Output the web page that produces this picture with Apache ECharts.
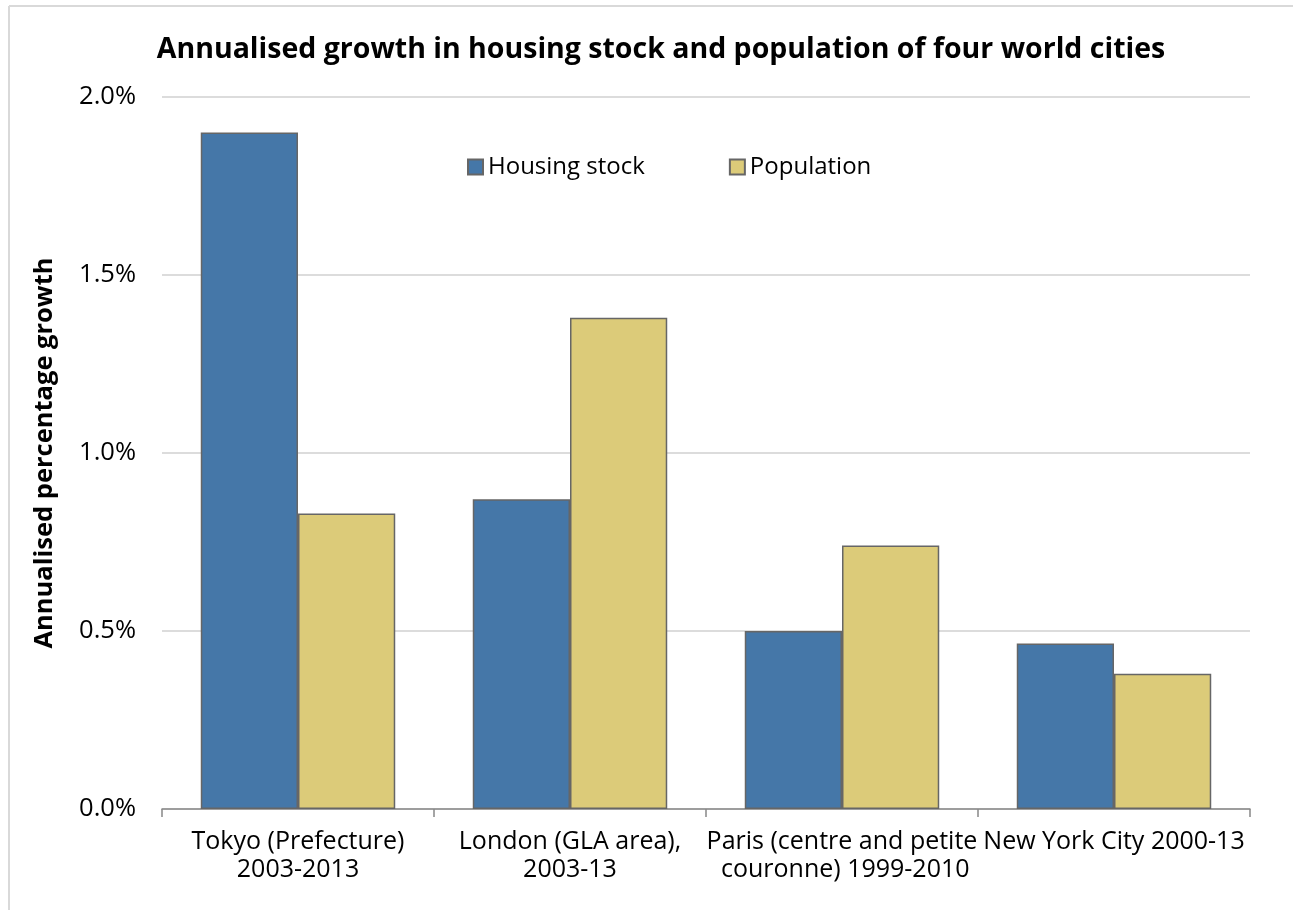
<!DOCTYPE html>
<html>
<head>
<meta charset="utf-8">
<script src="https://cdn.jsdelivr.net/npm/echarts@6/dist/echarts.min.js"></script>
<style>
html,body{margin:0;padding:0;background:#fff;}
#chart{width:1293px;height:910px;}
</style>
</head>
<body>
<div id="chart"></div>
<script>
const categories = [
  "Tokyo (Prefecture)\n2003-2013",
  "London (GLA area),\n2003-13",
  "Paris (centre and petite\n couronne) 1999-2010",
  "New York City 2000-13"
];
const housingStock = [1.90, 0.87, 0.50, 0.465];
const population = [0.83, 1.38, 0.74, 0.38];
const yTicks = [0, 0.5, 1.0, 1.5, 2.0];

const FONT = "'Open Sans', 'Noto Sans', sans-serif";
const chart = echarts.init(document.getElementById('chart'), null, {renderer: 'canvas'});
chart.setOption({
  animation: false,
  backgroundColor: '#fff',
  graphic: [
    {type: 'line', shape: {x1: 9, y1: 6, x2: 1293, y2: 6}, style: {stroke: '#d9d9d9', lineWidth: 2}},
    {type: 'line', shape: {x1: 9, y1: 6, x2: 9, y2: 910}, style: {stroke: '#d9d9d9', lineWidth: 2}}
  ],
  title: {
    text: 'Annualised growth in housing stock and population of four world cities',
    left: 656, top: 30, textAlign: 'center',
    textStyle: {fontFamily: FONT, fontWeight: 'bold', fontSize: 28.5, color: '#000'}
  },
  legend: {
    top: 150, left: 462,
    itemWidth: 15, itemHeight: 15, itemGap: 84,
    textStyle: {fontFamily: FONT, fontSize: 24, color: '#000', padding: [0, 0, 0, 0]},
    data: [
      {name: 'Housing stock', icon: 'rect'},
      {name: 'Population', icon: 'rect'}
    ]
  },
  grid: {left: 162, right: 43, top: 97, bottom: 101, containLabel: false},
  xAxis: {
    type: 'category',
    data: categories,
    axisLine: {lineStyle: {color: '#888', width: 1.5}},
    axisTick: {show: true, length: 8, interval: 0, lineStyle: {color: '#888', width: 1.5}},
    axisLabel: {interval: 0, margin: 19, fontFamily: FONT, fontSize: 25, color: '#000', lineHeight: 28, overflow: 'none'}
  },
  yAxis: {
    type: 'value',
    min: 0, max: 2.0, interval: 0.5,
    name: 'Annualised percentage growth',
    nameLocation: 'middle', nameGap: 104,
    nameTextStyle: {fontFamily: FONT, fontWeight: 'bold', fontSize: 25.5, color: '#000'},
    axisLine: {show: false},
    axisTick: {show: false},
    splitLine: {lineStyle: {color: '#d0d0d0', width: 1.5}},
    axisLabel: {
      fontFamily: FONT, fontSize: 25.5, color: '#000', margin: 26,
      formatter: v => v.toFixed(1) + '%'
    }
  },
  series: [
    {
      name: 'Housing stock', type: 'bar', data: housingStock,
      barGap: '0%', barCategoryGap: '28.5%',
      itemStyle: {color: '#4577a8', borderColor: '#666', borderWidth: 1.5}
    },
    {
      name: 'Population', type: 'bar', data: population,
      itemStyle: {color: '#dccb79', borderColor: '#666', borderWidth: 1.5}
    }
  ]
});
</script>
</body>
</html>
